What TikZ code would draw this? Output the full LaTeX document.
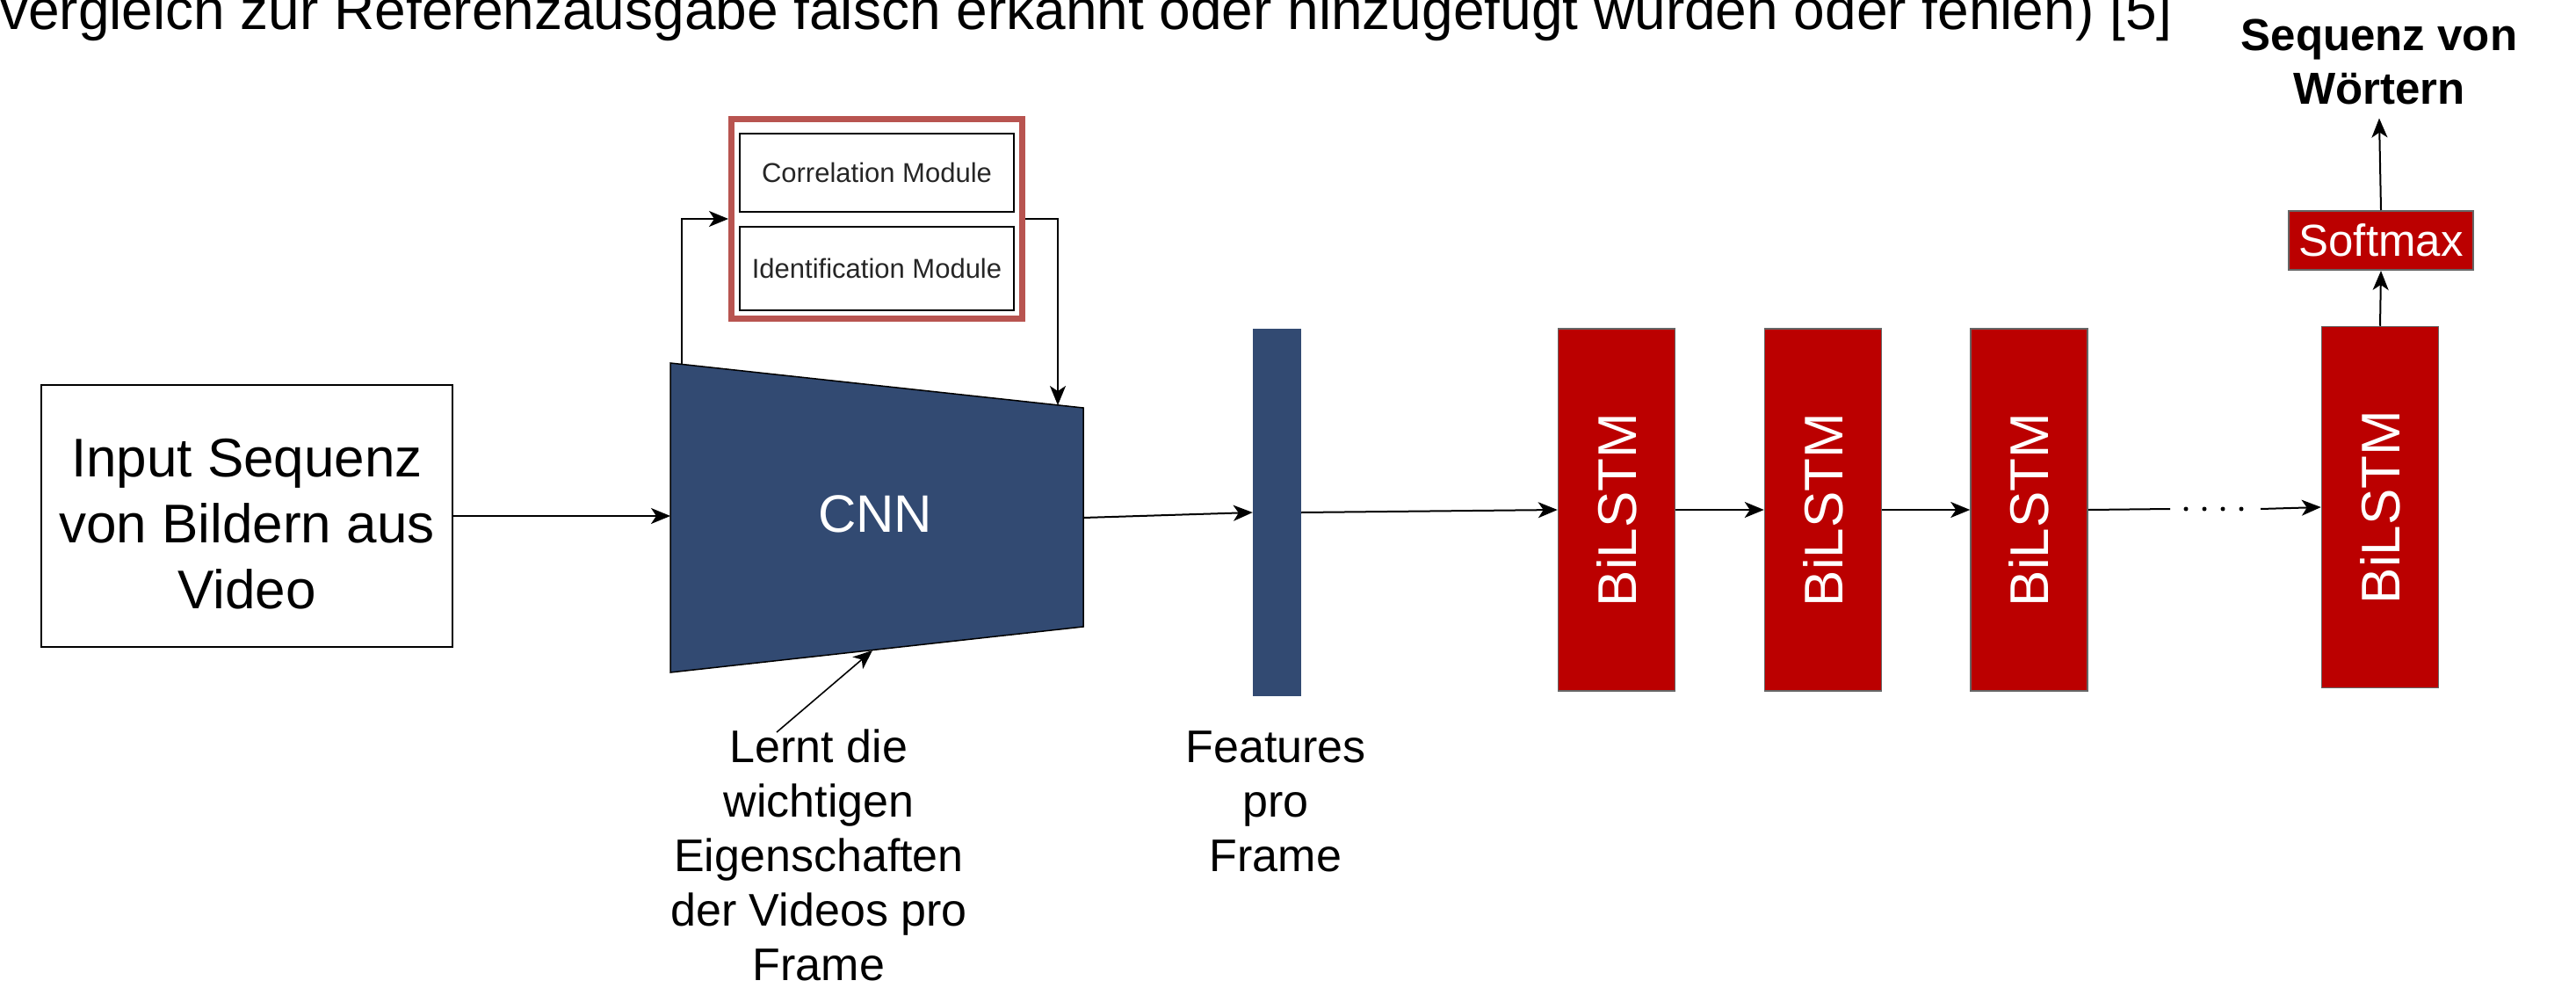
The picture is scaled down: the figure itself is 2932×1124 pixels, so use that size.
\documentclass[tikz,border=0pt]{standalone}
\usepackage{fontspec}
\setmainfont{Liberation Sans}
\usetikzlibrary{arrows.meta}
\definecolor{navy}{RGB}{50,74,114}
\definecolor{bred}{RGB}{187,0,0}
\definecolor{modred}{RGB}{184,84,80}
\begin{document}
\begin{tikzpicture}[x=1pt,y=-1pt,
  conn/.style={draw=black, line width=2pt, -{Stealth[length=22pt,width=18pt,inset=6pt]}},
  lstm/.style={draw=black!60, line width=1.5pt, fill=bred, minimum width=133pt, minimum height=412pt, inner sep=0pt, text=white, font=\fontsize{62}{74}\selectfont},
  modbox/.style={draw=black, line width=2.5pt, minimum width=312pt, inner sep=0pt, font=\fontsize{31}{37}\selectfont, text=black!85},
  lbl/.style={align=center, inner sep=0pt, font=\fontsize{52}{62}\selectfont},
]
\useasboundingbox (0,0) rectangle (2932,1124);
\begin{scope}
\clip (0,0) rectangle (2932,1124);
\node[anchor=base west, inner sep=0pt, font=\fontsize{64}{77}\selectfont] (title) at (0,34) {vergleich zur Referenzausgabe falsch erkannt oder hinzugefügt wurden oder fehlen) [5]};
\end{scope}

% input
\node[draw, line width=2pt, minimum width=468pt, minimum height=298pt, inner sep=0pt] (input) at (281,587) {};
\node[align=center, inner sep=0pt, font=\fontsize{62}{75}\selectfont] (inputtext) at (281,596) {Input Sequenz\\von Bildern aus\\Video};

% CNN
\coordinate (c1) at (763,413);
\coordinate (c2) at (1233,464);
\coordinate (c3) at (1233,713);
\coordinate (c4) at (763,765);
\draw[fill=navy, line width=1.5pt] (c1) -- (c2) -- (c3) -- (c4) -- cycle;
\node[text=white, inner sep=0pt, font=\fontsize{60}{72}\selectfont] (cnn) at (996,585) {CNN};
\coordinate (cnnin) at (763,587);
\coordinate (cnnout) at (1233,589);
\coordinate (cnntopL) at (776,414.5);
\coordinate (cnntopR) at (1204,461);
\coordinate (cnnbot) at (993,740);

% modules
\node[draw=modred, line width=7pt, minimum width=331pt, minimum height=227pt, inner sep=0pt] (mods) at (998,249) {};
\node[modbox, minimum height=89pt] (corr) at (998,196.5) {Correlation Module};
\node[modbox, minimum height=95pt] (ident) at (998,305.5) {Identification Module};

% features
\node[fill=navy, minimum width=55pt, minimum height=418pt, inner sep=0pt] (feat) at (1453.5,583) {};

% BiLSTMs
\node[lstm] (b1) at (1840,580) {\rotatebox{90}{BiLSTM}};
\node[lstm] (b2) at (2075,580) {\rotatebox{90}{BiLSTM}};
\node[lstm] (b3) at (2309.5,580) {\rotatebox{90}{BiLSTM}};
\node[lstm, minimum height=411pt] (b4) at (2709,577) {\rotatebox{90}{BiLSTM}};

% softmax and output
\node[draw=black!60, line width=2pt, fill=bred, text=white, minimum width=210pt, minimum height=67pt, inner sep=0pt, font=\fontsize{51}{61}\selectfont] (soft) at (2710,273.5) {Softmax};
\node[anchor=north, align=center, inner sep=0pt, font=\bfseries\fontsize{51}{61}\selectfont] (words) at (2708,22) {Sequenz von\\Wörtern};

% labels
\node[lbl, anchor=north] (learn) at (932,830) {Lernt die\\wichtigen\\Eigenschaften\\der Videos pro\\Frame};
\node[lbl, anchor=north] (featlbl) at (1452,832) {Features\\pro\\Frame};
\coordinate (learnarrow) at (884,833);

% connectors
\draw[conn] (input.east |- cnnin) -- (cnnin);
\draw[conn] (cnntopL) |- (mods.west);
\draw[conn] (mods.east) -| (cnntopR);
\draw[conn, line width=1.6pt] (learnarrow) -- (cnnbot);
\draw[conn] (cnnout) -- (feat.west);
\draw[conn] (feat.east) -- (b1.west);
\draw[conn] (b1.east) -- (b2.west);
\draw[conn] (b2.east) -- (b3.west);
\coordinate (d1) at (2470,579);
\coordinate (d2) at (2573,579);
\draw[line width=2pt] (b3.east) -- (d1);
\draw[line width=5pt, line cap=round, dash pattern=on 0pt off 21pt] (2488,579) -- (2560,579);
\draw[conn] (d2) -- (b4.west);
\draw[conn] (b4.north) -- (soft.south);
\draw[conn] (soft.north) -- ([yshift=-15pt]words.south);
\end{tikzpicture}
\end{document}
